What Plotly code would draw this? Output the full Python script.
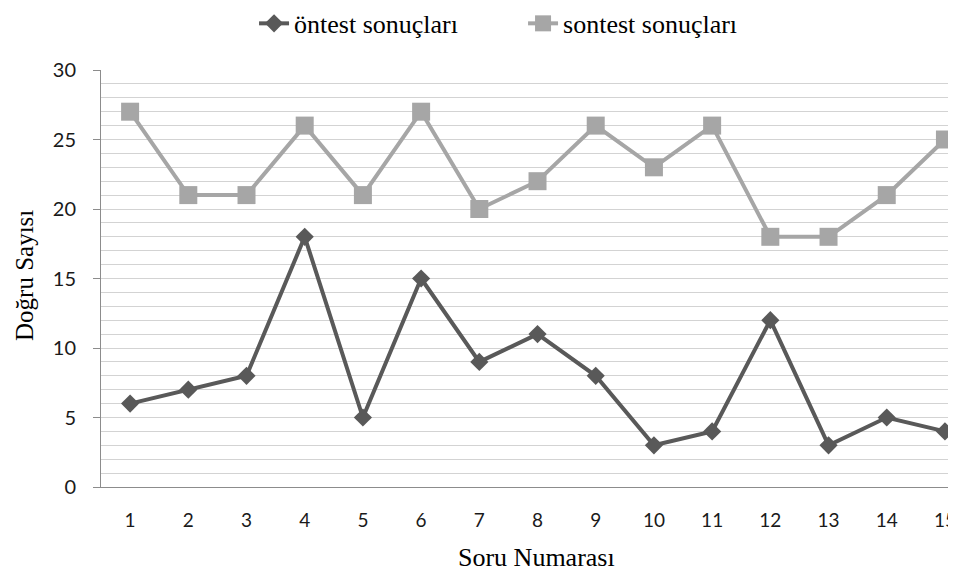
import plotly.graph_objects as go

questions = list(range(1, 16))
pretest = [6, 7, 8, 18, 5, 15, 9, 11, 8, 3, 4, 12, 3, 5, 4]
posttest = [27, 21, 21, 26, 21, 27, 20, 22, 26, 23, 26, 18, 18, 21, 25]

SERIF = "Liberation Serif"

fig = go.Figure()
fig.add_trace(go.Scatter(
    x=questions, y=pretest, name="öntest sonuçları", mode="lines+markers",
    line=dict(color="#595959", width=4),
    marker=dict(symbol="diamond", size=14, color="#595959"),
    cliponaxis=False,
))
fig.add_trace(go.Scatter(
    x=questions, y=posttest, name="sontest sonuçları", mode="lines+markers",
    line=dict(color="#a6a6a6", width=4),
    marker=dict(symbol="square", size=18, color="#a6a6a6"),
    cliponaxis=False,
))

fig.update_layout(
    width=948, height=566,
    margin=dict(l=93, r=0, t=62, b=87, autoexpand=False),
    paper_bgcolor="white", plot_bgcolor="white",
    font=dict(family=SERIF),
    showlegend=True,
    legend=dict(orientation="h", x=0.179, xanchor="left", y=1.168, yref="paper",
                yanchor="top", font=dict(family=SERIF, size=26, color="black"),
                entrywidth=224, entrywidthmode="pixels", tracegroupgap=0),
    xaxis=dict(
        range=[0.5, 15.19], tickmode="array", tickvals=questions,
        ticktext=[str(q) for q in questions], automargin=False,
        showgrid=False, showline=True, linecolor="#8c8c8c", linewidth=1,
        ticks="", ticklabelstandoff=16, zeroline=False,
        ticklabeloverflow="allow",
        tickfont=dict(family="Lato", size=19, color="#1a1a1a"),
    ),
    yaxis=dict(
        range=[0, 30], tickmode="linear", tick0=0, dtick=5, automargin=False,
        showgrid=True, gridcolor="#d3d3d3", gridwidth=1,
        minor=dict(dtick=1, showgrid=True, gridcolor="#d3d3d3", gridwidth=1),
        showline=True, linecolor="#8c8c8c", linewidth=1,
        ticks="outside", ticklen=7, tickcolor="#8c8c8c", zeroline=False,
        ticklabelstandoff=13,
        tickfont=dict(family="Lato", size=20, color="#1a1a1a"),
    ),
    annotations=[
        dict(text="Soru Numarası", xref="paper", yref="paper", x=0.5088, y=-0.168,
             xanchor="center", yanchor="middle", showarrow=False,
             font=dict(family=SERIF, size=26, color="black")),
        dict(text="Doğru Sayısı", xref="paper", yref="paper", x=-0.0889, y=0.5084,
             xanchor="center", yanchor="middle", showarrow=False, textangle=-90,
             font=dict(family=SERIF, size=25, color="black")),
    ],
)

fig.write_html("out.html")
